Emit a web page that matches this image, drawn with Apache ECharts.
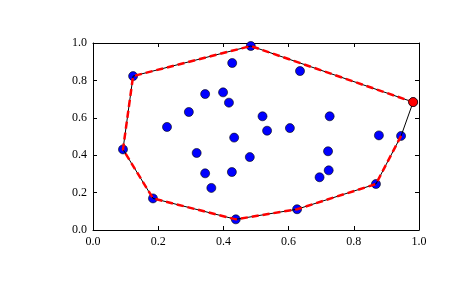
<!DOCTYPE html>
<html><head><meta charset="utf-8">
<script src="https://cdn.jsdelivr.net/npm/echarts@6/dist/echarts.min.js"></script>
<style>html,body{margin:0;padding:0;background:#fff}#c{width:465px;height:288px}</style>
</head><body><div id="c"></div>
<script>
// all points (x, y)
const pointsX = [0.123,0.484,0.982,0.945,0.868,0.626,0.438,0.184,0.092,
  0.427,0.635,0.344,0.399,0.417,0.294,0.227,0.520,0.534,0.433,0.726,0.604,0.877,0.318,0.481,0.344,0.426,0.363,0.721,0.723,0.695];
const pointsY = [0.823,0.984,0.684,0.503,0.246,0.111,0.057,0.169,0.431,
  0.893,0.850,0.727,0.736,0.681,0.631,0.551,0.608,0.531,0.494,0.608,0.545,0.506,0.412,0.390,0.303,0.310,0.225,0.421,0.319,0.282];
// convex hull vertices (closed polygon, black)
const hullX = [0.982,0.945,0.868,0.626,0.438,0.184,0.092,0.123,0.484,0.982];
const hullY = [0.684,0.503,0.246,0.111,0.057,0.169,0.431,0.823,0.984,0.684];
// red dashed path (open)
const pathX = [0.945,0.868,0.626,0.438,0.184,0.092,0.123,0.484,0.982];
const pathY = [0.503,0.246,0.111,0.057,0.169,0.431,0.823,0.984,0.684];
// highlighted start point
const startX = [0.982];
const startY = [0.684];
const ticks = ['0.0','0.2','0.4','0.6','0.8','1.0'];

const zip = (a,b)=>a.map((v,i)=>[v,b[i]]);
const font = {fontFamily:'Liberation Serif', fontSize:12, color:'#000'};
const baseAxis = (pos, show) => ({
  type:'value', min:0, max:1, interval:0.2, position:pos,
  axisLine:{show:true, onZero:false, lineStyle:{color:'#000', width:1}},
  axisTick:{show:true, inside:true, length:4, lineStyle:{color:'#000'}},
  splitLine:{show:false},
  axisLabel:Object.assign({show:show, margin:6, formatter:v=>ticks[Math.round(v*5)]}, font)
});
const chart = echarts.init(document.getElementById('c'), null, {renderer:'canvas'});
chart.setOption({
  animation:false,
  grid:{left:93, top:43, width:326, height:187},
  xAxis:[baseAxis('bottom', true), baseAxis('top', false)],
  yAxis:[baseAxis('left', true), baseAxis('right', false)],
  series:[
    {type:'scatter', data:zip(pointsX, pointsY), symbolSize:9, z:2,
     itemStyle:{color:'#0000ff', opacity:1, borderColor:'#000', borderWidth:0.6}},
    {type:'line', data:zip(hullX, hullY), symbol:'none', z:3,
     lineStyle:{color:'#000', width:1}},
    {type:'line', data:zip(pathX, pathY), symbol:'none', z:4,
     lineStyle:{color:'#ff0000', width:2.5, type:[7,4]}},
    {type:'scatter', data:zip(startX, startY), symbolSize:9, z:5,
     itemStyle:{color:'#ff0000', opacity:1, borderColor:'#000', borderWidth:0.6}}
  ]
});
</script></body></html>
